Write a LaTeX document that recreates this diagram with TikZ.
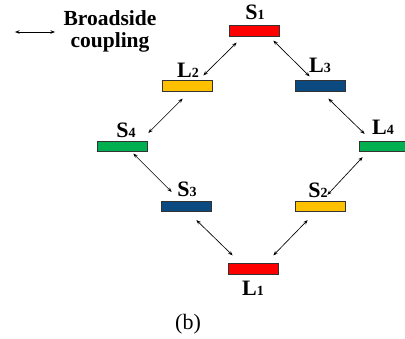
\documentclass[tikz,border=0pt]{standalone}
\usepackage{fontspec}
\setmainfont{Liberation Serif}
\usetikzlibrary{arrows.meta,calc}
\definecolor{cred}{HTML}{FF0000}
\definecolor{cyel}{HTML}{FFC000}
\definecolor{cblu}{HTML}{0B4A80}
\definecolor{cgrn}{HTML}{00B050}
\newcommand\lab[2]{#1{\fontsize{14}{14}\selectfont #2}}
\begin{document}
\begin{tikzpicture}[x=1pt,y=-1pt,
  bar/.style={rectangle, draw=black!80, line width=0.7pt, minimum width=50pt, minimum height=10.5pt, inner sep=0pt},
  lbl/.style={anchor=base, inner sep=0pt, font=\fontsize{22}{24}\selectfont\bfseries},
  leg/.style={anchor=base, inner sep=0pt, font=\fontsize{21.5}{23}\selectfont\bfseries},
  cpl/.style={{Stealth[length=4.5pt,width=3.5pt]}-{Stealth[length=4.5pt,width=3.5pt]}, line width=0.65pt}]
\useasboundingbox (0,0) rectangle (405,338);
% bars
\node[bar,fill=cred] (S1) at (254,31) {};
\node[bar,fill=cyel] (L2) at (187,86) {};
\node[bar,fill=cblu] (L3) at (320,86) {};
\node[bar,fill=cgrn] (S4) at (122,146.5) {};
\node[bar,fill=cgrn] (L4) at (384,146.5) {};
\node[bar,fill=cblu] (S3) at (186,206.5) {};
\node[bar,fill=cyel] (S2) at (320,206.5) {};
\node[bar,fill=cred] (L1) at (253.5,269) {};
% labels
\node[lbl] (tS1) at (255,19) {\lab{S}{1}};
\node[lbl] (tL2) at (188,77) {\lab{L}{2}};
\node[lbl] (tL3) at (320,72) {\lab{L}{3}};
\node[lbl] (tS4) at (126,137) {\lab{S}{4}};
\node[lbl] (tL4) at (383,134) {\lab{L}{4}};
\node[lbl] (tS3) at (187,196) {\lab{S}{3}};
\node[lbl] (tS2) at (318,197) {\lab{S}{2}};
\node[lbl] (tL1) at (253,295) {\lab{L}{1}};
% couplings
\draw[cpl] ($(S1.south west)+(8,6)$) -- ($(L2.north east)+(-9,-5)$);
\draw[cpl] ($(S1.south east)+(-6,4)$) -- ($(L3.north west)+(15,-4)$);
\draw[cpl] ($(L3.south east)+(-17,7)$) -- ($(L4.north west)+(6,-7)$);
\draw[cpl] ($(L2.south west)+(21,7)$) -- ($(S4.north east)+(1,-8)$);
\draw[cpl] ($(S4.south east)+(-14,1.5)$) -- ($(S3.north west)+(11,-9)$);
\draw[cpl] ($(S3.south east)+(-15,8)$) -- ($(L1.north west)+(4.5,-8)$);
\draw[cpl] ($(S2.south west)+(13,8)$) -- ($(L1.north east)+(-5.5,-8)$);
\draw[cpl] ($(L4.south west)+(4,5)$) -- ($(S2.north east)+(-18,-6)$);
% legend
\coordinate (la) at (15,32);
\coordinate (lb) at (55,32);
\draw[cpl] (la) -- (lb);
\node[leg] (leg1) at (110,25) {Broadside};
\node[leg] (leg2) at (110,47) {coupling};
% caption
\node[anchor=base, inner sep=0pt, font=\fontsize{22}{24}\selectfont] (cap) at (188,329) {(b)};
\end{tikzpicture}
\end{document}
